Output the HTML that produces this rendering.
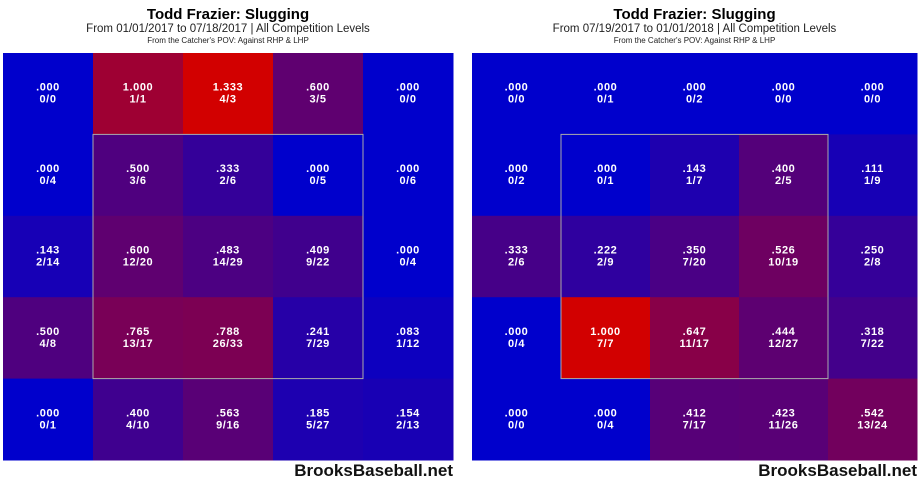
<!DOCTYPE html>
<html><head><meta charset="utf-8">
<style>
body{margin:0;width:922px;height:481px;background:#fff;overflow:hidden;font-family:"Liberation Sans",sans-serif;}
svg{position:absolute;left:0;top:0}
</style></head>
<body>
<svg width="922" height="481" id="c"></svg>
<script>
const leftVals=[[0,1,1.333,.6,0],[0,.5,.333,0,0],[.143,.6,.483,.409,0],[.5,.765,.788,.241,.083],[0,.4,.563,.185,.154]];
const leftLabels=[[".000","1.000","1.333",".600",".000"],[".000",".500",".333",".000",".000"],[".143",".600",".483",".409",".000"],[".500",".765",".788",".241",".083"],[".000",".400",".563",".185",".154"]];
const leftCounts=[["0/0","1/1","4/3","3/5","0/0"],["0/4","3/6","2/6","0/5","0/6"],["2/14","12/20","14/29","9/22","0/4"],["4/8","13/17","26/33","7/29","1/12"],["0/1","4/10","9/16","5/27","2/13"]];
const rightVals=[[0,0,0,0,0],[0,0,.143,.4,.111],[.333,.222,.35,.526,.25],[0,1,.647,.444,.318],[0,0,.412,.423,.542]];
const rightLabels=[[".000",".000",".000",".000",".000"],[".000",".000",".143",".400",".111"],[".333",".222",".350",".526",".250"],[".000","1.000",".647",".444",".318"],[".000",".000",".412",".423",".542"]];
const rightCounts=[["0/0","0/1","0/2","0/0","0/0"],["0/2","0/1","1/7","2/5","1/9"],["2/6","2/9","7/20","10/19","2/8"],["0/4","7/7","11/17","12/27","7/22"],["0/0","0/4","7/17","11/26","13/24"]];
const NS="http://www.w3.org/2000/svg";
const svg=document.getElementById('c');
function el(t,a,p){const e=document.createElementNS(NS,t);for(const k in a)e.setAttribute(k,a[k]);(p||svg).appendChild(e);return e;}
function panel(x0,x1,vals,labels,counts,sub,name){
  const g=el('g',{});
  
  
  const cx=(x0+x1)/2;
  let t=el('text',{x:cx,y:19,'text-anchor':'middle','font-size':15,'font-weight':'bold',fill:'#000'},g);t.textContent="Todd Frazier: Slugging";
  
  t=el('text',{x:cx,y:32,'text-anchor':'middle','font-size':11.5,fill:'#222'},g);t.textContent=sub;
  
  t=el('text',{x:cx,y:43,'text-anchor':'middle','font-size':8,fill:'#222'},g);t.textContent="From the Catcher's POV:   Against RHP & LHP";
  
  const y0=53,y1=460,cw=(x1-x0)/5,ch=(y1-y0)/5;
  let mx=0;vals.forEach(r=>r.forEach(v=>{if(v>mx)mx=v;}));
  for(let r=0;r<5;r++)for(let c=0;c<5;c++){
    const f=mx?vals[r][c]/mx:0;
    const col=`rgb(${Math.round(210*f)},0,${Math.round(204*(1-f))})`;
    const rc=el('rect',{x:x0+c*cw,y:y0+r*ch,width:cw+0.5,height:ch+0.5,fill:col},g);
    
    const tx=x0+c*cw+cw/2,ty=y0+r*ch+ch/2;
    let a=el('text',{x:tx,y:ty-3,'text-anchor':'middle','font-size':11,'font-weight':'bold','letter-spacing':0.6,fill:'#fff'},g);a.textContent=labels[r][c];
    
    a=el('text',{x:tx,y:ty+9,'text-anchor':'middle','font-size':11,'font-weight':'bold','letter-spacing':0.6,fill:'#fff'},g);a.textContent=counts[r][c];
    
  }
  const b=el('rect',{x:x0+cw,y:y0+ch,width:cw*3,height:ch*3,fill:'none',stroke:'#aaa','stroke-width':1},g);
  
  t=el('text',{x:x1,y:476,'text-anchor':'end','font-size':17,'font-weight':'bold',fill:'#111'},g);t.textContent="BrooksBaseball.net";
  
}
panel(3,453,leftVals,leftLabels,leftCounts,"From 01/01/2017 to 07/18/2017 | All Competition Levels","left-panel");
panel(472,917,rightVals,rightLabels,rightCounts,"From 07/19/2017 to 01/01/2018 | All Competition Levels","right-panel");
</script>
</body></html>
